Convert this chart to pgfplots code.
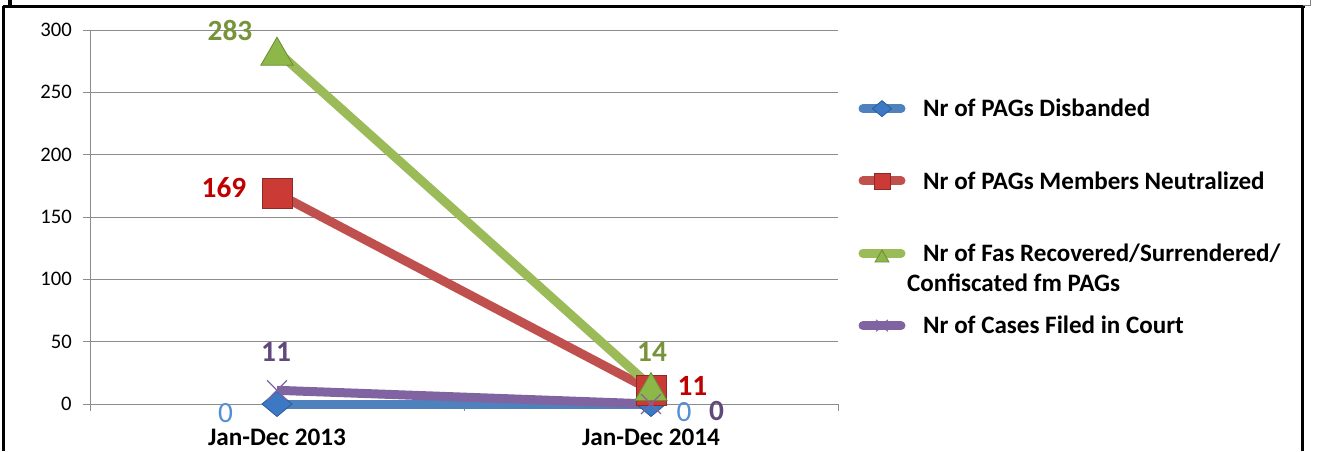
\documentclass[border=0pt]{standalone}
\usepackage{pgfplots}
\pgfplotsset{compat=1.18}
\usepackage{fontspec}
\setmainfont{Carlito}

\definecolor{lnblue}{HTML}{4F81BD}
\definecolor{lnred}{HTML}{C0504D}
\definecolor{lngreen}{HTML}{9BBB59}
\definecolor{lnpurple}{HTML}{8064A2}
\definecolor{lbgreen}{HTML}{77933C}
\definecolor{lbred}{HTML}{C00000}
\definecolor{lbpurple}{HTML}{604A7B}
\definecolor{lbblue}{HTML}{558ED5}
\definecolor{gridgray}{HTML}{8C8C8C}
\definecolor{mkblue}{HTML}{3C78C3}
\definecolor{mkblueD}{HTML}{2C5D98}
\definecolor{mkred}{HTML}{CC3A36}
\definecolor{mkredD}{HTML}{8C2A27}
\definecolor{mkgreen}{HTML}{8DB748}
\definecolor{mkgreenD}{HTML}{6A8C33}

% legend text with a fixed height so every row is the same
\newcommand{\lgtxt}[1]{\raisebox{0pt}[14pt][0pt]{#1}}

\begin{document}
\begin{tikzpicture}
\useasboundingbox (0,0) rectangle (987.75pt,338.25pt);
% slide frame
\draw[line width=2.25pt] (2.25pt,333.4pt) -- (978.75pt,333.4pt);
\draw[line width=2.4pt] (2.6pt,333.4pt) -- (2.6pt,0pt);
\draw[line width=2.4pt] (976.9pt,333.4pt) -- (976.9pt,0pt);
\draw[line width=2.4pt] (7.5pt,338.25pt) -- (7.5pt,333.4pt);
\draw[line width=0.6pt, gray] (977.5pt,334.5pt) -- (982.5pt,334.5pt) -- (982.5pt,338.25pt);

\begin{axis}[
  at={(67.5pt,35.25pt)}, anchor=south west,
  scale only axis, width=561pt, height=280.5pt,
  xmin=-0.5, xmax=1.5, ymin=0, ymax=300,
  clip=false,
  axis x line*=bottom, axis y line*=left,
  axis line style={gridgray, line width=0.75pt},
  ymajorgrids, grid style={gridgray, line width=0.75pt},
  tick align=outside, major tick length=5pt,
  tick style={gridgray, line width=0.75pt},
  ytick={0,50,...,300},
  xtick={-0.5,0.5,1.5}, xticklabels={},
  extra x ticks={0,1},
  extra x tick labels={Jan-Dec 2013, Jan-Dec 2014},
  extra x tick style={major tick length=0pt, grid=none,
    tick label style={font=\bfseries\fontsize{18.9}{22}\selectfont, yshift=-12pt}},
  /pgf/number format/assume math mode=true,
  yticklabel style={font=\fontsize{15.5}{18}\selectfont, xshift=-2pt},
  line width=6.75pt,
  legend style={at={(1.0274,0.8174)}, anchor=north west, draw=none, fill=none,
    inner sep=0pt, outer sep=0pt, row sep=38.75pt, column sep=13.25pt,
    nodes={inner sep=0pt, font=\bfseries\fontsize{18.8}{22.5}\selectfont}},
  legend cell align=left,
  legend image code/.code={
    \draw[line cap=round, mark size=6pt, mark repeat=2, mark phase=2]
      plot coordinates {(0pt,0pt) (14.25pt,0pt) (28.5pt,0pt)};},
]
\addplot[lnblue, mark=diamond*,
  mark options={solid, line width=0.6pt, xscale=1.6, fill=mkblue, draw=mkblueD},
  mark size=9.4pt]
  coordinates {(0,0) (1,0)};
\addlegendentry{\lgtxt{Nr of PAGs Disbanded}}
\addplot[lnred, mark=square*,
  mark options={solid, line width=0.6pt, fill=mkred, draw=mkredD},
  mark size=11.25pt]
  coordinates {(0,169) (1,11)};
\addlegendentry{\lgtxt{Nr of PAGs Members Neutralized}}
\addplot[lngreen, mark=triangle*,
  mark options={solid, line width=0.6pt, yshift=-3.5pt, fill=mkgreen, draw=mkgreenD},
  mark size=14pt]
  coordinates {(0,283) (1,14)};
\addlegendentry{\lgtxt{\begin{tabular}[t]{@{}l@{}}Nr of Fas Recovered/Surrendered/\\\hspace*{-12pt}Confiscated fm PAGs\end{tabular}}}
\addplot[lnpurple, mark=x,
  mark options={solid, line width=0.9pt, draw=lnpurple},
  mark size=10.5pt]
  coordinates {(0,11) (1,0)};
\addlegendentry{\lgtxt{Nr of Cases Filed in Court}}

% data labels
\begin{scope}[every node/.style={font=\bfseries\fontsize{22}{26}\selectfont, anchor=center, inner sep=0pt}]
\node[lbgreen, xshift=-35.25pt, yshift=15.9pt] at (axis cs:0,283) {283};
\node[lbred, xshift=-39.75pt, yshift=4pt] at (axis cs:0,169) {169};
\node[lbpurple, xshift=-0.75pt, yshift=28.7pt] at (axis cs:0,11) {11};
\node[lbblue, font=\fontsize{22}{26}\selectfont, xshift=-38.6pt, yshift=-6.75pt] at (axis cs:0,0) {0};
\node[lbgreen, xshift=0.75pt, yshift=26.25pt] at (axis cs:1,14) {14};
\node[lbred, xshift=31.1pt, yshift=3.2pt] at (axis cs:1,11) {11};
\node[lbblue, font=\fontsize{22}{26}\selectfont, xshift=24.75pt, yshift=-6.4pt] at (axis cs:1,0) {0};
\node[lbpurple, xshift=49.1pt, yshift=-5.6pt] at (axis cs:1,0) {0};
\end{scope}
\end{axis}
\end{tikzpicture}
\end{document}
